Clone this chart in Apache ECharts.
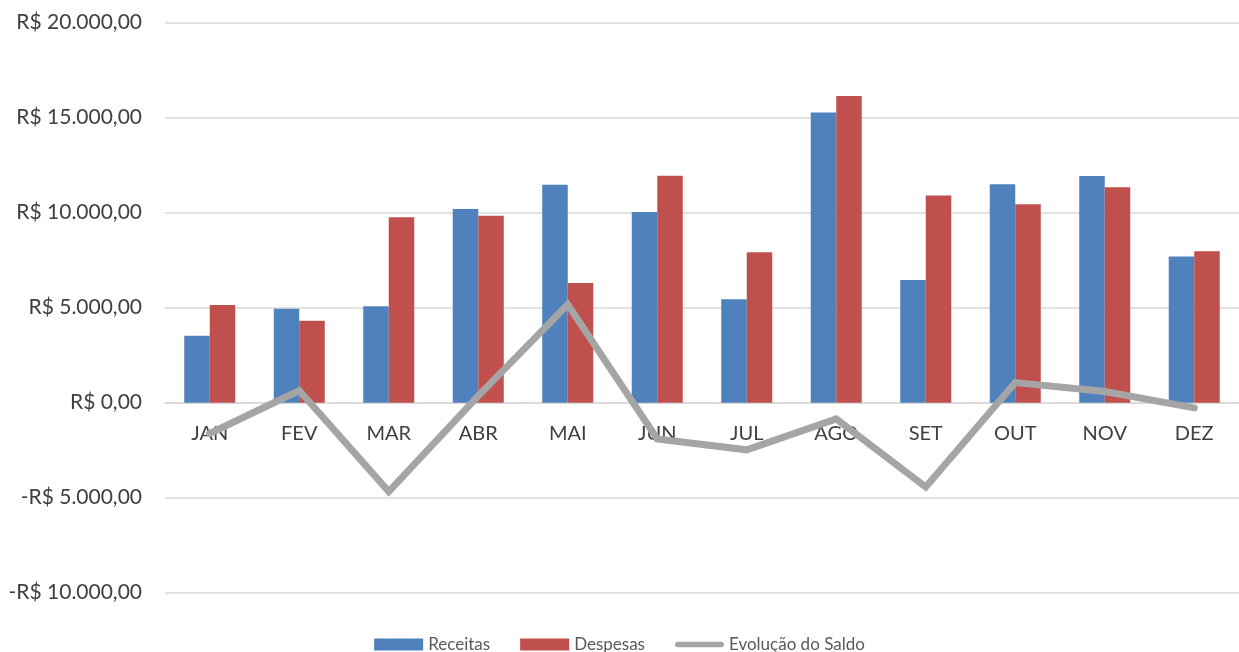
<!DOCTYPE html>
<html>
<head>
<meta charset="utf-8">
<script src="https://cdn.jsdelivr.net/npm/echarts@6/dist/echarts.min.js"></script>
<style>
html,body{margin:0;padding:0;background:#fff;}
#chart{width:1239px;height:652px;}
</style>
</head>
<body>
<div id="chart"></div>
<script>
var categories = ['JAN','FEV','MAR','ABR','MAI','JUN','JUL','AGO','SET','OUT','NOV','DEZ'];
var receitas = [3520, 4950, 5080, 10200, 11470, 10040, 5440, 15280, 6460, 11500, 11930, 7700];
var despesas = [5140, 4310, 9760, 9840, 6300, 11950, 7920, 16140, 10900, 10440, 11340, 7970];
var saldo = [-1620, 640, -4680, 360, 5170, -1910, -2480, -860, -4440, 1060, 590, -270];
var yTicks = [-10000, -5000, 0, 5000, 10000, 15000, 20000];

function fmt(v) {
  var neg = v < 0;
  var a = Math.abs(v);
  var s = Math.round(a).toString().replace(/\B(?=(\d{3})+(?!\d))/g, '.');
  return (neg ? '-' : '') + 'R$ ' + s + ',00';
}

var chart = echarts.init(document.getElementById('chart'));
var FONT = 'Lato';
var GRID_TOP = 22.7, GRID_BOTTOM = 59.3;
var plotH = 652 - GRID_TOP - GRID_BOTTOM;
var zeroOffset = -plotH * (0 - yTicks[0]) / (yTicks[yTicks.length - 1] - yTicks[0]);

chart.setOption({
  animation: false,
  textStyle: { fontFamily: FONT },
  grid: { left: 165, right: -5, top: GRID_TOP, bottom: GRID_BOTTOM, containLabel: false },
  legend: {
    left: 'center',
    top: 631,
    itemGap: 30,
    itemWidth: 49,
    itemHeight: 12,
    textStyle: { fontFamily: FONT, fontSize: 17, color: '#595959' },
    data: [
      { name: 'Receitas', icon: 'rect' },
      { name: 'Despesas', icon: 'rect' },
      { name: 'Evolução do Saldo', icon: 'path://M3,0 L50,0 A3,3 0 0 1 50,6 L3,6 A3,3 0 0 1 3,0 Z', itemStyle: { color: '#A5A5A5' } }
    ]
  },
  xAxis: {
    type: 'category',
    data: categories,
    offset: zeroOffset,
    axisLine: { show: true, onZero: false, lineStyle: { color: '#D9D9D9', width: 1.5 } },
    axisTick: { show: false },
    axisLabel: { color: '#404040', fontSize: 20, fontFamily: FONT, margin: 21 }
  },
  yAxis: {
    type: 'value',
    min: yTicks[0],
    max: yTicks[yTicks.length - 1],
    interval: 5000,
    axisLine: { show: false },
    axisTick: { show: false },
    splitLine: { lineStyle: { color: '#D9D9D9', width: 1.5 } },
    axisLabel: { color: '#404040', fontSize: 21, fontFamily: FONT, margin: 23, formatter: fmt }
  },
  series: [
    {
      name: 'Receitas', type: 'bar', data: receitas,
      barGap: '0%', barCategoryGap: '43%',
      itemStyle: { color: '#4F81BD' }
    },
    {
      name: 'Despesas', type: 'bar', data: despesas,
      barGap: '0%', barCategoryGap: '43%',
      itemStyle: { color: '#C0504D' }
    },
    {
      name: 'Evolução do Saldo', type: 'line', data: saldo,
      symbol: 'none', z: 5,
      lineStyle: { color: '#A5A5A5', width: 7, cap: 'round', join: 'miter' },
      itemStyle: { color: '#A5A5A5' }
    }
  ]
});
</script>
</body>
</html>
